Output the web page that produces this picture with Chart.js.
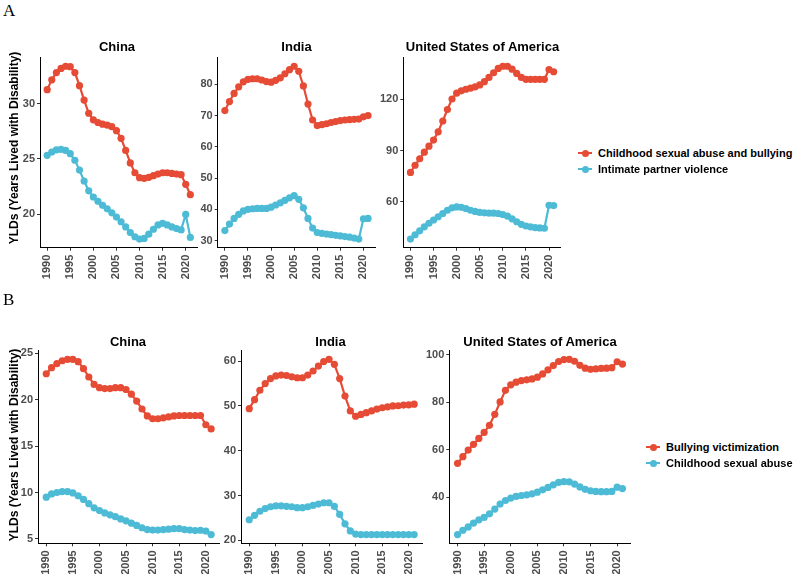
<!DOCTYPE html>
<html><head><meta charset="utf-8">
<script src="https://cdn.jsdelivr.net/npm/chart.js@4.4.0/dist/chart.umd.min.js"></script>
<style>
body{margin:0;background:#fff;width:795px;height:574px;overflow:hidden;position:relative;font-family:"Liberation Sans",Arial,sans-serif;}
.abs{position:absolute;}
.plabel{font-family:"Liberation Serif","Times New Roman",serif;font-size:17px;line-height:17px;color:#000;}
.ptitle{font-weight:bold;font-size:13px;line-height:13px;white-space:nowrap;transform:translateX(-50%);color:#000;}
.ytitle{font-weight:bold;font-size:12px;line-height:14px;white-space:nowrap;transform:translate(-50%,-50%) rotate(-90deg);color:#000;}
.leg{font-weight:bold;font-size:11px;line-height:16px;white-space:nowrap;color:#000;}
.key{display:inline-block;position:relative;width:14px;height:16px;vertical-align:top;margin-right:6px;}
.key:before{content:"";position:absolute;left:0;right:0;top:7px;height:2px;background:var(--c);}
.key:after{content:"";position:absolute;left:3.5px;top:4.5px;width:7px;height:7px;border-radius:50%;background:var(--c);}
canvas{position:absolute;}
</style></head><body>
<script>
// ---------- data ----------
const years = [1990,1991,1992,1993,1994,1995,1996,1997,1998,1999,2000,2001,2002,2003,2004,2005,2006,2007,2008,2009,2010,2011,2012,2013,2014,2015,2016,2017,2018,2019,2020,2021];
const xTickYears = [1990,1995,2000,2005,2010,2015,2020];
const countries = ["China","India","United States of America"];
const seriesA = ["Childhood sexual abuse and bullying","Intimate partner violence"];
const seriesB = ["Bullying victimization","Childhood sexual abuse"];
const yAxisTitle = "YLDs (Years Lived with Disability)";

// Panel A
const chinaA_csab = [31.28,32.17,32.83,33.2,33.4,33.36,32.83,31.64,30.33,29.14,28.54,28.3,28.15,28.07,27.92,27.56,26.87,25.77,24.64,23.75,23.3,23.24,23.33,23.48,23.63,23.75,23.75,23.69,23.63,23.57,22.7,21.76];
const chinaA_ipv  = [25.33,25.63,25.83,25.86,25.77,25.48,24.88,23.99,23.0,22.11,21.55,21.16,20.8,20.48,20.12,19.73,19.31,18.84,18.33,17.95,17.74,17.8,18.18,18.63,19.02,19.17,19.02,18.84,18.69,18.57,19.97,17.89];
const indiaA_csab = [71.6,74.5,77.1,79.2,80.8,81.6,81.8,81.8,81.4,80.9,80.7,81.3,82.1,83.4,84.7,85.8,84.2,79.5,73.7,68.6,66.8,67.1,67.4,67.8,68.1,68.4,68.6,68.7,68.8,68.9,69.6,70.0];
const indiaA_ipv  = [33.2,35.3,37.1,38.4,39.5,40.0,40.2,40.3,40.3,40.3,40.7,41.4,42.1,42.9,43.7,44.4,43.2,40.5,37.1,34.0,32.6,32.3,32.1,31.9,31.7,31.5,31.3,31.1,30.8,30.5,37.0,37.1];
const usaA_csab   = [77.2,81.4,85.2,89.0,92.5,96.1,100.9,107.2,113.9,120.0,123.4,124.8,125.7,126.3,127.1,128.2,130.1,132.6,135.3,137.8,139.1,139.1,137.4,134.9,132.6,131.5,131.5,131.5,131.5,131.5,137.2,135.9];
const usaA_ipv    = [38.4,40.9,43.2,45.5,47.6,49.5,51.4,53.3,55.2,56.6,57.1,56.9,56.2,55.2,54.5,53.9,53.7,53.5,53.5,53.3,52.7,51.8,50.2,48.5,47.0,46.0,45.5,45.1,44.9,44.7,58.1,57.9];
// Panel B
const chinaB_bully = [22.8,23.45,23.9,24.2,24.35,24.35,24.1,23.35,22.45,21.65,21.3,21.2,21.2,21.3,21.3,21.1,20.6,19.85,19.0,18.25,17.95,17.95,18.05,18.15,18.25,18.3,18.3,18.3,18.3,18.3,17.3,16.85];
const chinaB_csa   = [9.5,9.85,10.0,10.1,10.1,9.95,9.65,9.25,8.8,8.35,8.05,7.8,7.6,7.4,7.15,6.95,6.7,6.45,6.2,6.0,5.95,5.95,6.0,6.05,6.1,6.1,6.0,5.95,5.9,5.93,5.85,5.47];
const indiaB_bully = [49.4,51.4,53.5,55.0,56.1,56.7,56.9,56.8,56.5,56.3,56.3,56.9,57.8,58.9,59.9,60.4,59.3,56.1,52.2,48.9,47.7,48.1,48.5,48.9,49.3,49.6,49.8,50.0,50.05,50.2,50.25,50.4];
const indiaB_csa   = [24.6,25.6,26.5,27.1,27.5,27.7,27.7,27.6,27.5,27.3,27.3,27.5,27.8,28.1,28.4,28.4,27.6,25.8,23.7,22.1,21.4,21.3,21.3,21.3,21.3,21.3,21.3,21.3,21.3,21.3,21.3,21.3];
const usaB_bully   = [54.3,57.1,59.9,62.3,64.8,67.3,70.3,74.9,80.1,85.0,87.3,88.4,89.1,89.4,89.8,90.5,91.9,93.6,95.4,97.1,97.9,98.0,97.2,95.5,94.3,93.8,94.0,94.2,94.3,94.5,97.0,96.0];
const usaB_csa     = [24.4,26.2,27.6,29.2,30.6,31.6,33.1,35.1,37.2,38.7,39.7,40.4,40.8,41.1,41.5,42.2,43.2,44.2,45.3,46.3,46.6,46.5,45.6,44.4,43.4,42.8,42.5,42.4,42.4,42.5,44.3,43.7];

const yTicks_chinaA = [20,25,30];
const yTicks_indiaA = [30,40,50,60,70,80];
const yTicks_usaA   = [60,90,120];
const yTicks_chinaB = [5,10,15,20,25];
const yTicks_indiaB = [20,30,40,50,60];
const yTicks_usaB   = [40,60,80,100];

// ---------- styling ----------
const RED = "#E64B35", BLUE = "#4DBBD5";
const TICKFONT = {family:"'Liberation Sans', Arial, sans-serif", size:11, weight:"bold"};
const TICKCOL = "#4D4D4D";

function addDiv(cls, text, left, top, extra) {
  const d = document.createElement('div');
  d.className = 'abs ' + cls;
  d.textContent = text;
  d.style.left = left + 'px';
  d.style.top = top + 'px';
  if (extra) Object.assign(d.style, extra);
  document.body.appendChild(d);
  return d;
}

function makePanel(box, yt, s1, s2) {
  const YW = 40, XH = 46, M = 8;
  const L = Math.floor(box.x0) - YW, T = Math.floor(box.y0) - M;
  const W = Math.ceil(box.x1) + M - L, H = Math.ceil(box.y1) + XH - T;
  const cv = document.createElement('canvas');
  cv.width = W; cv.height = H;
  cv.style.left = L + 'px'; cv.style.top = T + 'px';
  cv.style.width = W + 'px'; cv.style.height = H + 'px';
  document.body.appendChild(cv);
  const all = s1.concat(s2);
  const lo = Math.min(...all), hi = Math.max(...all), e = (hi - lo) * 0.05;
  const xlo = years[0], xhi = years[years.length - 1], xe = (xhi - xlo) * 0.05;
  const mk = (arr, col) => ({
    data: years.map((y, i) => ({x: y, y: arr[i]})),
    borderColor: col, backgroundColor: col, borderWidth: 2.2,
    pointRadius: 3.6, pointBorderWidth: 0, pointHoverRadius: 3.6, tension: 0
  });
  new Chart(cv, {
    type: 'line',
    data: {datasets: [mk(s1, RED), mk(s2, BLUE)]},
    options: {
      responsive: false, animation: false, events: [],
      layout: {padding: {left: box.x0 - YW - L, top: box.y0 - T, right: L + W - box.x1, bottom: (T + H - XH) - box.y1}},
      plugins: {legend: {display: false}, tooltip: {enabled: false}, title: {display: false}},
      scales: {
        x: {
          type: 'linear', min: xlo - xe, max: xhi + xe,
          afterBuildTicks: s => { s.ticks = xTickYears.map(v => ({value: v})); },
          afterFit: s => { s.height = XH; },
          ticks: {autoSkip: false, minRotation: 90, maxRotation: 90, padding: 4, font: TICKFONT, color: TICKCOL, callback: v => String(v)},
          grid: {display: true, drawOnChartArea: false, drawTicks: true, tickLength: 3, color: '#333', lineWidth: 1},
          border: {display: true, color: '#000', width: 1}
        },
        y: {
          type: 'linear', min: lo - e, max: hi + e,
          afterBuildTicks: s => { s.ticks = yt.map(v => ({value: v})); },
          afterFit: s => { s.width = YW; },
          ticks: {padding: 2, font: TICKFONT, color: TICKCOL, callback: v => String(v)},
          grid: {display: true, drawOnChartArea: false, drawTicks: true, tickLength: 3, color: '#333', lineWidth: 1},
          border: {display: true, color: '#000', width: 1}
        }
      }
    }
  });
}

// ---------- layout ----------
const rowA = {y0: 57, y1: 247.7}, rowB = {y0: 350.5, y1: 543.3};
makePanel({x0: 40,    x1: 197.5, ...rowA}, yTicks_chinaA, chinaA_csab, chinaA_ipv);
makePanel({x0: 217.7, x1: 375.2, ...rowA}, yTicks_indiaA, indiaA_csab, indiaA_ipv);
makePanel({x0: 403.3, x1: 560.8, ...rowA}, yTicks_usaA,   usaA_csab,   usaA_ipv);
makePanel({x0: 38,    x1: 219.4, ...rowB}, yTicks_chinaB, chinaB_bully, chinaB_csa);
makePanel({x0: 241,   x1: 422.4, ...rowB}, yTicks_indiaB, indiaB_bully, indiaB_csa);
makePanel({x0: 449.3, x1: 630.7, ...rowB}, yTicks_usaB,   usaB_bully,   usaB_csa);

// panel letters
addDiv('plabel', 'A', 3, 2);
addDiv('plabel', 'B', 3, 291);
// panel titles
addDiv('ptitle', countries[0], 117, 40);
addDiv('ptitle', countries[1], 296.5, 40);
addDiv('ptitle', countries[2], 482.5, 40);
addDiv('ptitle', countries[0], 128, 334.5);
addDiv('ptitle', countries[1], 330.5, 334.5);
addDiv('ptitle', countries[2], 540, 334.5);
// y axis titles
addDiv('ytitle', yAxisTitle, 14, 148);
addDiv('ytitle', yAxisTitle, 14, 445);

// legends
function legend(names, left, top) {
  const cols = [RED, BLUE];
  names.forEach((n, i) => {
    const d = document.createElement('div');
    d.className = 'abs leg';
    d.style.left = left + 'px';
    d.style.top = (top + i * 16) + 'px';
    const k = document.createElement('span');
    k.className = 'key';
    k.style.setProperty('--c', cols[i]);
    d.appendChild(k);
    d.appendChild(document.createTextNode(n));
    document.body.appendChild(d);
  });
}
legend(seriesA, 578, 145);
legend(seriesB, 646, 439);
</script>
</body></html>
